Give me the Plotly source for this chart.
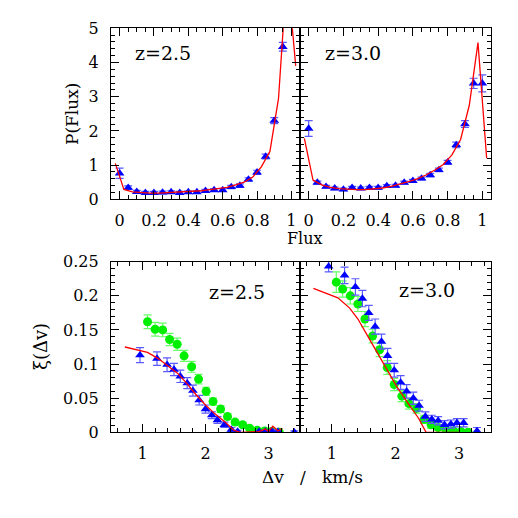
import plotly.graph_objects as go

# ---------------- data ----------------
# Top panels: P(Flux)
flux_pts = [0.0, 0.05, 0.1, 0.15, 0.2, 0.25, 0.3, 0.35, 0.4, 0.45, 0.5,
            0.55, 0.6, 0.65, 0.7, 0.75, 0.8, 0.85, 0.9, 0.95]
pf25_obs = [0.76, 0.34, 0.22, 0.19, 0.19, 0.20, 0.21, 0.19, 0.21, 0.21, 0.25,
            0.27, 0.27, 0.36, 0.40, 0.58, 0.79, 1.25, 2.30, 4.46]
pf25_err = [0.15, 0.05, 0.04, 0.04, 0.04, 0.04, 0.04, 0.04, 0.04, 0.04, 0.04,
            0.04, 0.04, 0.05, 0.05, 0.05, 0.06, 0.07, 0.09, 0.13]

flux_pts30 = [0.0, 0.05, 0.1, 0.15, 0.2, 0.25, 0.3, 0.35, 0.4, 0.45, 0.5,
              0.55, 0.6, 0.65, 0.7, 0.75, 0.8, 0.85, 0.9, 0.95, 1.0]
pf30_obs = [2.07, 0.49, 0.37, 0.32, 0.29, 0.34, 0.32, 0.34, 0.34, 0.39, 0.40,
            0.49, 0.54, 0.61, 0.71, 0.86, 1.08, 1.59, 2.20, 3.39, 3.39]
pf30_err = [0.23, 0.04, 0.04, 0.04, 0.04, 0.04, 0.04, 0.04, 0.04, 0.04, 0.04,
            0.04, 0.04, 0.04, 0.05, 0.05, 0.06, 0.08, 0.10, 0.15, 0.25]

flux_mod = [-0.025, 0.025, 0.075, 0.125, 0.175, 0.225, 0.275, 0.325, 0.375,
            0.425, 0.475, 0.525, 0.575, 0.625, 0.675, 0.725, 0.775, 0.825,
            0.875, 0.925, 0.975, 1.025]
pf25_mod = [1.05, 0.29, 0.22, 0.19, 0.18, 0.18, 0.19, 0.20, 0.21, 0.23, 0.25,
            0.28, 0.31, 0.35, 0.42, 0.50, 0.65, 0.95, 1.40, 2.95, 6.70, 3.90]
pf30_mod = [1.78, 0.56, 0.42, 0.35, 0.31, 0.29, 0.28, 0.28, 0.30, 0.33, 0.38,
            0.44, 0.52, 0.60, 0.71, 0.85, 1.02, 1.30, 1.75, 2.75, 4.58, 1.20]

# Bottom panels: xi(dv)
dv25_tri = [0.96, 1.23, 1.39, 1.50, 1.60, 1.71, 1.80, 1.90, 2.00, 2.10, 2.19,
            2.30, 2.41, 2.51, 2.85, 2.95, 3.05, 3.15, 3.41]
xi25_tri = [0.113, 0.108, 0.099, 0.092, 0.082, 0.072, 0.061, 0.047, 0.034,
            0.025, 0.018, 0.011, 0.004, 0.001, 0.001, 0.001, 0.002, 0.001, 0.0]
xi25_tri_err = [0.011, 0.010, 0.010, 0.009, 0.009, 0.008, 0.008, 0.007, 0.006,
                0.005, 0.005, 0.004, 0.003, 0.002, 0.002, 0.002, 0.002, 0.002, 0.002]

dv25_cir = [1.08, 1.20, 1.32, 1.43, 1.55, 1.66, 1.78, 1.89, 2.01, 2.12, 2.24,
            2.35, 2.47, 2.59, 2.70, 2.82, 2.94, 3.05, 3.17]
xi25_cir = [0.162, 0.151, 0.150, 0.136, 0.129, 0.112, 0.096, 0.078, 0.060,
            0.045, 0.034, 0.023, 0.015, 0.011, 0.006, 0.003, 0.002, 0.001, 0.0]
xi25_cir_err = [0.010, 0.010, 0.010, 0.009, 0.009, 0.008, 0.008, 0.007, 0.006,
                0.005, 0.005, 0.004, 0.003, 0.003, 0.002, 0.002, 0.002, 0.002, 0.002]

dv25_mod = [0.72, 1.08, 1.25, 1.40, 1.55, 1.70, 1.85, 2.00, 2.15, 2.30, 2.45,
            2.55, 2.70, 2.85, 2.95, 3.00, 3.07, 3.15, 3.22]
xi25_mod = [0.125, 0.117, 0.108, 0.098, 0.087, 0.072, 0.055, 0.040, 0.027,
            0.016, 0.003, 0.0, 0.0, 0.001, 0.005, 0.001, 0.009, 0.002, 0.006]

dv30_tri = [0.95, 1.20, 1.37, 1.48, 1.58, 1.68, 1.78, 1.875, 1.98, 2.08, 2.175,
            2.28, 2.37, 2.47, 2.57, 2.67, 2.77, 2.87, 2.965, 3.07, 3.28]
xi30_tri = [0.243, 0.230, 0.213, 0.196, 0.175, 0.155, 0.133, 0.112, 0.091,
            0.073, 0.060, 0.050, 0.039, 0.023, 0.019, 0.017, 0.011, 0.012,
            0.014, 0.014, 0.002]
xi30_tri_err = [0.008, 0.012, 0.012, 0.012, 0.011, 0.011, 0.011, 0.011, 0.010,
                0.010, 0.010, 0.009, 0.008, 0.007, 0.006, 0.006, 0.006, 0.006,
                0.006, 0.006, 0.005]

dv30_cir = [1.07, 1.17, 1.29, 1.41, 1.52, 1.64, 1.75, 1.87, 1.98, 2.10, 2.21,
            2.33, 2.45, 2.56, 2.67, 2.79, 2.91, 3.03, 3.14]
xi30_cir = [0.220, 0.210, 0.200, 0.188, 0.166, 0.141, 0.121, 0.095, 0.070,
            0.053, 0.042, 0.035, 0.019, 0.011, 0.007, 0.004, 0.002, 0.001, 0.0]
xi30_cir_err = [0.015, 0.012, 0.012, 0.011, 0.011, 0.010, 0.010, 0.010, 0.009,
                0.008, 0.008, 0.007, 0.006, 0.005, 0.004, 0.003, 0.003, 0.002, 0.002]

dv30_mod = [0.71, 1.095, 1.28, 1.41, 1.60, 1.81, 2.02, 2.23, 2.36, 2.48, 2.70, 3.0]
xi30_mod = [0.211, 0.197, 0.182, 0.166, 0.135, 0.101, 0.067, 0.038, 0.021,
            0.0, 0.0, 0.0]

# ---------------- styling ----------------
OFF = 8          # default page body margin
W = H = 518 - 2 * OFF
FONT = "DejaVu Serif"
BLUE = "#0000ff"
BLUE_ERR = "#5a5aff"
GREEN = "#00ee00"
GREEN_ERR = "#66ff66"
RED = "#ff0000"

def px_x(p):
    return (p - OFF) / W

def px_y(p):
    return 1 - (p - OFF) / H

def tri(x, y, e, xa, ya):
    return go.Scatter(x=x, y=y, mode="markers", xaxis=xa, yaxis=ya,
                      marker=dict(symbol="triangle-up", size=8.5, color=BLUE),
                      error_y=dict(type="data", array=e, color=BLUE_ERR,
                                   thickness=1.2, width=4),
                      showlegend=False, cliponaxis=True)

def cir(x, y, e, xa, ya):
    return go.Scatter(x=x, y=y, mode="markers", xaxis=xa, yaxis=ya,
                      marker=dict(symbol="circle", size=9, color=GREEN),
                      error_y=dict(type="data", array=e, color=GREEN_ERR,
                                   thickness=1.2, width=4),
                      showlegend=False, cliponaxis=True)

def line(x, y, xa, ya):
    return go.Scatter(x=x, y=y, mode="lines", xaxis=xa, yaxis=ya,
                      line=dict(color=RED, width=1.3),
                      showlegend=False)

fig = go.Figure()
fig.add_trace(tri(flux_pts, pf25_obs, pf25_err, "x", "y"))
fig.add_trace(line(flux_mod, pf25_mod, "x", "y"))
fig.add_trace(tri(flux_pts30, pf30_obs, pf30_err, "x2", "y2"))
fig.add_trace(line(flux_mod, pf30_mod, "x2", "y2"))
fig.add_trace(cir(dv25_cir, xi25_cir, xi25_cir_err, "x3", "y3"))
fig.add_trace(tri(dv25_tri, xi25_tri, xi25_tri_err, "x3", "y3"))
fig.add_trace(line(dv25_mod, xi25_mod, "x3", "y3"))
fig.add_trace(cir(dv30_cir, xi30_cir, xi30_cir_err, "x4", "y4"))
fig.add_trace(tri(dv30_tri, xi30_tri, xi30_tri_err, "x4", "y4"))
fig.add_trace(line(dv30_mod, xi30_mod, "x4", "y4"))

def ax(rng, dtick, mdtick, dom, anchor, labels=True, standoff=6):
    return dict(range=rng, dtick=dtick, tick0=0, domain=dom, anchor=anchor,
                automargin=False,
                showline=True, linecolor="black", linewidth=1.3,
                mirror="allticks", ticks="inside", ticklen=8, tickwidth=1,
                tickcolor="black", showgrid=False, zeroline=False,
                showticklabels=labels, ticklabelstandoff=standoff,
                tickfont=dict(family=FONT, size=16, color="black"),
                minor=dict(ticks="inside", ticklen=4, tickwidth=1,
                           tickcolor="black", dtick=mdtick, tick0=0,
                           showgrid=False))

xL = [px_x(111), px_x(300)]
xR = [px_x(300), px_x(491)]
yT = [px_y(199.3), px_y(28.3)]
yB = [px_y(432.3), px_y(261.7)]

fig.update_layout(
    template="none",
    width=W, height=H, margin=dict(l=0, r=0, t=0, b=0, autoexpand=False),
    paper_bgcolor="white", plot_bgcolor="white",
    xaxis=ax([-0.05, 1.05], 0.2, 0.05, xL, "y"),
    yaxis=ax([0, 5], 1, 0.2, yT, "x", standoff=8),
    xaxis2=ax([-0.05, 1.05], 0.2, 0.05, xR, "y2"),
    yaxis2=ax([0, 5], 1, 0.2, yT, "x2", labels=False),
    xaxis3=ax([0.5, 3.5], 1, 0.2, xL, "y3"),
    yaxis3=ax([0, 0.25], 0.05, 0.01, yB, "x3", standoff=8),
    xaxis4=ax([0.5, 3.5], 1, 0.2, xR, "y4"),
    yaxis4=ax([0, 0.25], 0.05, 0.01, yB, "x4", labels=False),
)

def txt(s, x, y, size, angle=0):
    fig.add_annotation(text=s, x=px_x(x), y=px_y(y), xref="paper",
                       yref="paper", showarrow=False, textangle=angle,
                       xanchor="center", yanchor="middle",
                       font=dict(family=FONT, size=size, color="black"))

txt("z=2.5", 163, 53, 19)
txt("z=3.0", 353, 53, 19)
txt("z=2.5", 237, 292, 19)
txt("z=3.0", 427, 290, 19)
txt("Flux", 305, 238, 16)
txt("Δv\u00a0\u00a0\u00a0/\u00a0\u00a0\u00a0km/s", 312, 477, 17)
txt("P(Flux)", 72, 114, 17, -90)
txt("ξ(Δv)", 40, 347, 18, -90)

fig.write_html("out.html")
